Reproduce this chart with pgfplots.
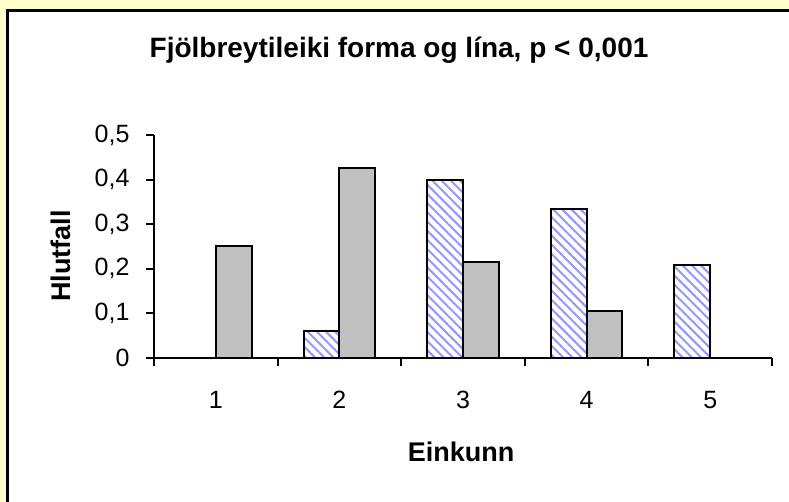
\documentclass[border=0pt]{standalone}
\usepackage{pgfplots}
\pgfplotsset{compat=1.18}
\usetikzlibrary{patterns.meta}
\usepackage{fontspec}
\setmainfont{Liberation Sans}
\definecolor{bgyellow}{RGB}{255,255,204}
\definecolor{barGray}{RGB}{192,192,192}
\definecolor{hatchBlue}{RGB}{150,150,255}
\begin{document}
\begin{tikzpicture}[x=1bp,y=1bp]
\useasboundingbox (0,0) rectangle (789,502);
\fill[bgyellow] (0,0) rectangle (789,502);
\fill[white] (7.5,0) rectangle (789,491.5);
\draw[line width=3bp] (7.5,0) -- (7.5,491.5) -- (789,491.5);
\begin{axis}[
  at={(154bp,144bp)}, anchor=south west,
  scale only axis, width=618bp, height=223bp,
  xmin=0.5, xmax=5.5, ymin=0, ymax=0.5,
  axis lines=left, axis line style={-, line width=2bp},
  tick align=outside, major tick length=8bp, minor tick length=8bp,
  tick style={black, line width=2bp},
  ytick={0,0.1,0.2,0.3,0.4,0.5},
  yticklabels={0,{0,1},{0,2},{0,3},{0,4},{0,5}},
  xtick={1,2,3,4,5},
  xticklabels={1,2,3,4,5},
  minor xtick={0.5,1.5,2.5,3.5,4.5,5.5},
  every major x tick/.style={draw=none},
  ticklabel style={font=\fontsize{25bp}{30bp}\selectfont},
  xticklabel style={yshift=-22bp},
  yticklabel style={xshift=-13bp},
  ybar, bar width=0.29,
]
\addplot[draw=black, line width=2bp, bar shift=-0.145, preaction={fill=white},
  pattern={Lines[angle=-45,distance=6.5bp,line width=2bp]}, pattern color=hatchBlue]
  coordinates {(2,0.061) (3,0.400) (4,0.335) (5,0.209)};
\addplot[fill=barGray, draw=black, line width=2bp, bar shift=0.145]
  coordinates {(1,0.250) (2,0.425) (3,0.215) (4,0.106)};
\end{axis}
\node[font=\bfseries\fontsize{28bp}{32bp}\selectfont] at (399,452) {Fjölbreytileiki forma og lína, p < 0,001};
\node[rotate=90, font=\bfseries\fontsize{27bp}{32bp}\selectfont] at (61,246) {Hlutfall};
\node[font=\bfseries\fontsize{27bp}{32bp}\selectfont] at (461,50) {Einkunn};
\end{tikzpicture}
\end{document}
